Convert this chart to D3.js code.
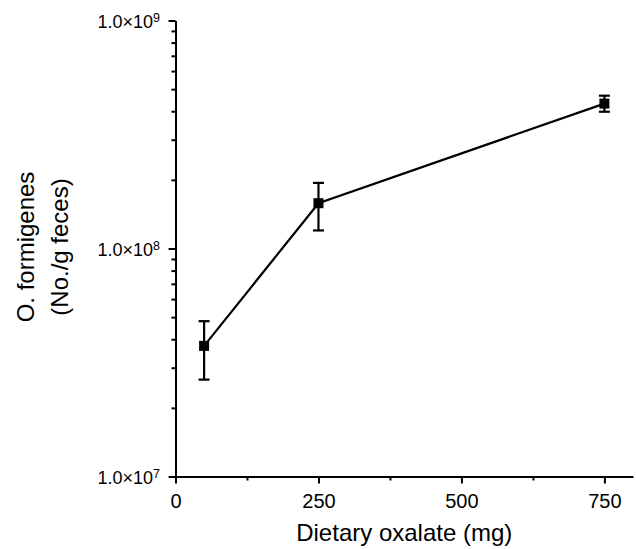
<!DOCTYPE html>
<html>
<head>
<meta charset="utf-8">
<script src="https://cdn.jsdelivr.net/npm/d3@7"></script>
<style>
  body { margin: 0; background: #fff; }
  svg { display: block; font-family: "Liberation Sans", Arial, sans-serif; }
</style>
</head>
<body>
<div id="chart"></div>
<script>
// data
const doses = [50, 250, 750];
const counts = [3.74e7, 1.58e8, 4.32e8];
const errLow = [2.66e7, 1.20e8, 3.98e8];
const errHigh = [4.80e7, 1.94e8, 4.68e8];

const xMajor = [0, 250, 500, 750];
const xMinor = [125, 375, 625];
const yMajor = [1e7, 1e8, 1e9];
const yMinor = [2, 3, 4, 5, 6, 7, 8, 9].flatMap(m => [m * 1e7, m * 1e8]);

const xTitle = "Dietary oxalate (mg)";
const yTitle = ["O. formigenes", "(No./g feces)"];

const W = 636, H = 549;
const margin = { top: 20.5, right: 3, bottom: 72.5, left: 175.5 };
const width = W - margin.left - margin.right;
const height = H - margin.top - margin.bottom;

const svg = d3.select("#chart").append("svg")
  .attr("width", W)
  .attr("height", H);

const g = svg.append("g")
  .attr("transform", "translate(" + margin.left + "," + margin.top + ")");

const x = d3.scaleLinear().domain([0, 800]).range([0, width]);
const y = d3.scaleLog().domain([1e7, 1e9]).range([height, 0]);

// x axis
const xAxis = g.append("g")
  .attr("transform", "translate(0," + height + ")")
  .call(d3.axisBottom(x).tickValues(xMajor).tickSize(7).tickSizeOuter(0).tickPadding(10));
xAxis.selectAll("text").style("font-size", "20px").attr("fill", "#000");
g.append("g")
  .attr("transform", "translate(0," + height + ")")
  .call(d3.axisBottom(x).tickValues(xMinor).tickSize(4).tickSizeOuter(0).tickFormat(""))
  .select(".domain").remove();

// y axis
const yAxis = g.append("g")
  .call(d3.axisLeft(y).tickValues(yMajor).tickSize(7).tickSizeOuter(0).tickFormat(""));
g.append("g")
  .call(d3.axisLeft(y).tickValues(yMinor).tickSize(4).tickSizeOuter(0).tickFormat(""))
  .select(".domain").remove();

g.selectAll(".domain, .tick line").attr("stroke", "#000").attr("stroke-width", 2);

// y tick labels as 1.0×10^n
yAxis.selectAll(".tick").each(function (d) {
  const t = d3.select(this).append("text")
    .attr("x", -15.5)
    .attr("dy", "0.38em")
    .attr("text-anchor", "end")
    .attr("fill", "#000")
    .style("font-size", "18px");
  t.append("tspan").text("1.0\u00d710");
  t.append("tspan")
    .attr("dy", "-0.5em")
    .style("font-size", "12.5px")
    .text(Math.round(Math.log10(d)));
});

// connecting line
g.append("path")
  .datum(doses.map((d, i) => [d, counts[i]]))
  .attr("fill", "none")
  .attr("stroke", "#000")
  .attr("stroke-width", 2.2)
  .attr("d", d3.line().x(d => x(d[0])).y(d => y(d[1])));

// error bars
const cap = 5.5;
const eb = g.append("g").attr("stroke", "#000").attr("stroke-width", 2.2);
doses.forEach((d, i) => {
  const cx = x(d);
  eb.append("line").attr("x1", cx).attr("x2", cx).attr("y1", y(errLow[i])).attr("y2", y(errHigh[i]));
  eb.append("line").attr("x1", cx - cap).attr("x2", cx + cap).attr("y1", y(errLow[i])).attr("y2", y(errLow[i]));
  eb.append("line").attr("x1", cx - cap).attr("x2", cx + cap).attr("y1", y(errHigh[i])).attr("y2", y(errHigh[i]));
});

// square markers
const sq = 10;
g.selectAll("rect.pt")
  .data(doses)
  .join("rect")
  .attr("class", "pt")
  .attr("x", d => x(d) - sq / 2)
  .attr("y", (d, i) => y(counts[i]) - sq / 2)
  .attr("width", sq)
  .attr("height", sq)
  .attr("fill", "#000");

// axis titles
svg.append("text")
  .attr("x", margin.left + x(400))
  .attr("y", 541)
  .attr("text-anchor", "middle")
  .style("font-size", "24px")
  .text(xTitle);

const yt = svg.append("text")
  .attr("transform", "translate(34,247) rotate(-90)")
  .attr("text-anchor", "middle")
  .style("font-size", "24px");
yt.append("tspan").attr("x", 0).attr("y", 0).text(yTitle[0]);
yt.append("tspan").attr("x", 0).attr("y", 34).text(yTitle[1]);
</script>
</body>
</html>
